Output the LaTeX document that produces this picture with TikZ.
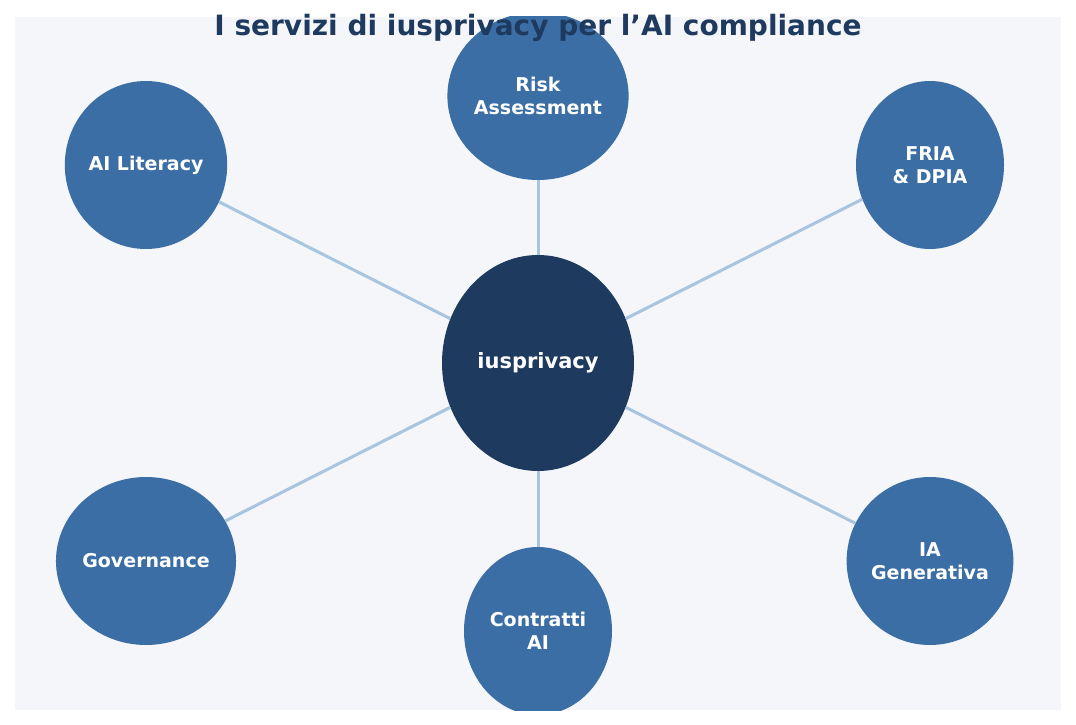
\documentclass[tikz,border=0pt]{standalone}
\usepackage{fontspec}
\setmainfont{DejaVu Sans}
\usetikzlibrary{shapes.geometric}
\definecolor{panelcolor}{HTML}{F4F6FA}
\definecolor{hubcolor}{HTML}{1F3A5F}
\definecolor{servcolor}{HTML}{3B6EA5}
\definecolor{linkcolor}{HTML}{A8C4DE}
\tikzset{
 serv/.style={ellipse,fill=servcolor,text=white,inner sep=0pt,minimum width=148pt,minimum height=168pt,align=center,font=\fontsize{19}{23}\selectfont\bfseries},
 hub/.style={ellipse,fill=hubcolor,text=white,inner sep=0pt,minimum width=192pt,minimum height=216pt,font=\fontsize{21}{25}\selectfont\bfseries},
 link/.style={linkcolor,line width=3pt}
}
\begin{document}
\begin{tikzpicture}[x=1pt,y=-1pt]
 \useasboundingbox (0,0) rectangle (1076,725);
 \fill [panelcolor] (15,17) rectangle (1061,710);
 \begin{scope}
 \clip (15,17) rectangle (1061,710);
 \node [hub] (hub) at (538,363) {iusprivacy};
 \node [serv] (risk) at (538,96) {Risk\\Assessment};
 \node [serv] (fria) at (930,165) {FRIA\\\& DPIA};
 \node [serv] (iagen) at (930,561) {IA\\Generativa};
 \node [serv] (contr) at (538,631) {Contratti\\AI};
 \node [serv] (gov) at (146,561) {Governance};
 \node [serv] (lit) at (146,165) {AI Literacy};
 \foreach \s in {risk,fria,iagen,contr,gov,lit}
  \draw [link] (hub) -- (\s);
 \end{scope}
 \node [text=hubcolor,font=\fontsize{28}{32}\selectfont\bfseries] (title) at (538,28) {I servizi di iusprivacy per l'AI compliance};
\end{tikzpicture}
\end{document}
